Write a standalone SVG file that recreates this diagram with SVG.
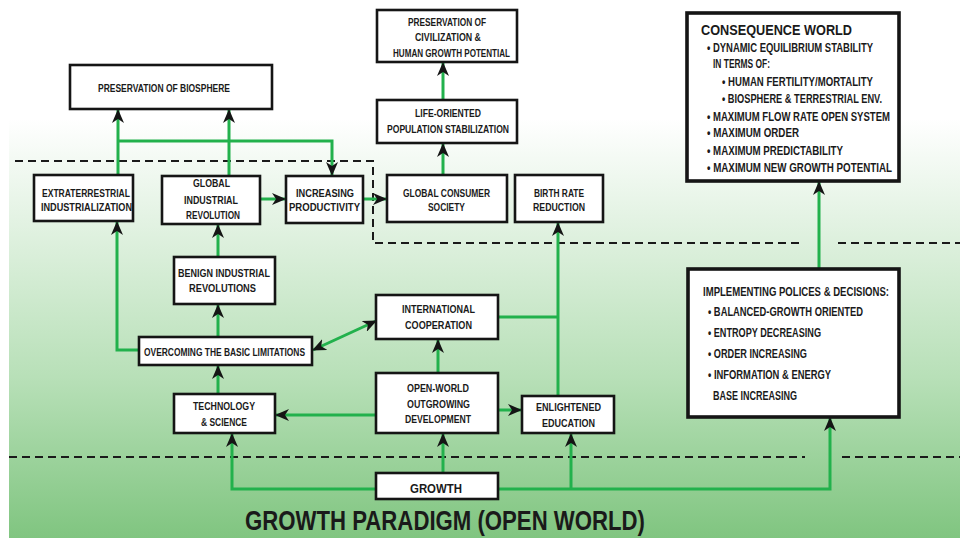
<svg xmlns="http://www.w3.org/2000/svg" width="960" height="538" viewBox="0 0 960 538">
<defs>
<linearGradient id="bg" x1="0" y1="0" x2="0" y2="1">
<stop offset="0" stop-color="#ffffff"/>
<stop offset="0.22" stop-color="#ffffff"/>
<stop offset="0.45" stop-color="#ddf0dd"/>
<stop offset="0.7" stop-color="#b8e0b8"/>
<stop offset="1" stop-color="#80c580"/>
</linearGradient>
<marker id="ah" viewBox="0 0 14 12" refX="13" refY="6" markerWidth="14" markerHeight="12" markerUnits="userSpaceOnUse" orient="auto-start-reverse">
<path d="M0,0 L14,6 L0,12 L4,6 z" fill="#151515"/>
</marker>
<style>
.box{fill:#fff;stroke:#151515;stroke-width:2.6}
.thick{stroke-width:3.6}
text{font-family:"Liberation Sans","DejaVu Sans",sans-serif;font-weight:bold;fill:#1a1a1a}
.t{font-size:11px}
.b{font-size:12px}
.i{font-size:13px}
.g{fill:none;stroke:#22b14c;stroke-width:3}
.a{marker-end:url(#ah)}
.d{fill:none;stroke:#1a1a1a;stroke-width:2;stroke-dasharray:8 5}
</style>
</defs>
<rect x="0" y="0" width="960" height="538" fill="#fff"/>
<rect x="9" y="0" width="951" height="538" fill="url(#bg)"/>

<g id="dashes">
<path class="d" d="M15,161 H373 V243 H803"/>
<path class="d" d="M838,243 H960"/>
<path class="d" d="M9,457 H805"/>
<path class="d" d="M842,457 H960"/>
</g>

<g id="connectors">
<path class="g a" d="M118,175 V110"/>
<path class="g a" d="M229,176 V110"/>
<path class="g a" d="M118,141 H332 V175"/>
<path class="g a" d="M260,199 H285"/>
<path class="g a" d="M363,199 H386"/>
<path class="g a" d="M443,175 V144"/>
<path class="g a" d="M443,100 V63"/>
<path class="g a" d="M218,257 V225"/>
<path class="g a" d="M218,337 V305"/>
<path class="g a" d="M218,394 V366"/>
<path class="g a" d="M139,350 H117 V222"/>
<path class="g a" d="M313,350 L376,321" style="marker-start:url(#ah)"/>
<path class="g a" d="M376,415 H276"/>
<path class="g a" d="M438,373 V340"/>
<path class="g a" d="M498,410 H521"/>
<path class="g a" d="M558,396 V223"/>
<path class="g" d="M498,317 H558"/>
<path class="g a" d="M376,489 H232 V434"/>
<path class="g a" d="M443,473 V434"/>
<path class="g a" d="M498,489 H830 V418"/>
<path class="g a" d="M571,489 V434"/>
<path class="g a" d="M819,269 V182"/>
</g>

<g id="biosphere">
<rect class="box" x="70" y="65" width="202" height="44"/>
<text class="t" x="98" y="92" textLength="132" lengthAdjust="spacingAndGlyphs">PRESERVATION OF BIOSPHERE</text>
</g>
<g id="extraterrestrial">
<rect class="box" x="34" y="175" width="99" height="46"/>
<text class="t" x="42" y="197" textLength="88" lengthAdjust="spacingAndGlyphs">EXTRATERRESTRIAL</text>
<text class="t" x="41" y="211" textLength="91" lengthAdjust="spacingAndGlyphs">INDUSTRIALIZATION</text>
</g>
<g id="global-industrial">
<rect class="box" x="162" y="176" width="98" height="48"/>
<text class="t" x="193" y="187" textLength="37" lengthAdjust="spacingAndGlyphs">GLOBAL</text>
<text class="t" x="184" y="204" textLength="54" lengthAdjust="spacingAndGlyphs">INDUSTRIAL</text>
<text class="t" x="186" y="219" textLength="54" lengthAdjust="spacingAndGlyphs">REVOLUTION</text>
</g>
<g id="increasing">
<rect class="box" x="286" y="176" width="77" height="47"/>
<text class="t" x="296" y="197" textLength="58" lengthAdjust="spacingAndGlyphs">INCREASING</text>
<text class="t" x="289" y="211" textLength="71" lengthAdjust="spacingAndGlyphs">PRODUCTIVITY</text>
</g>
<g id="civilization">
<rect class="box" x="377" y="10" width="140" height="52"/>
<text class="t" x="408" y="26" textLength="78" lengthAdjust="spacingAndGlyphs">PRESERVATION OF</text>
<text class="t" x="415" y="41" textLength="66" lengthAdjust="spacingAndGlyphs">CIVILIZATION &amp;</text>
<text class="t" x="393" y="57" textLength="117" lengthAdjust="spacingAndGlyphs">HUMAN GROWTH POTENTIAL</text>
</g>
<g id="life-oriented">
<rect class="box" x="377" y="100" width="140" height="43"/>
<text class="t" x="415" y="117" textLength="66" lengthAdjust="spacingAndGlyphs">LIFE-ORIENTED</text>
<text class="t" x="387" y="133" textLength="122" lengthAdjust="spacingAndGlyphs">POPULATION STABILIZATION</text>
</g>
<g id="consumer">
<rect class="box" x="387" y="175" width="120" height="47"/>
<text class="t" x="403" y="197" textLength="87" lengthAdjust="spacingAndGlyphs">GLOBAL CONSUMER</text>
<text class="t" x="428" y="211" textLength="37" lengthAdjust="spacingAndGlyphs">SOCIETY</text>
</g>
<g id="birth-rate">
<rect class="box" x="515" y="175" width="88" height="47"/>
<text class="t" x="534" y="197" textLength="50" lengthAdjust="spacingAndGlyphs">BIRTH RATE</text>
<text class="t" x="533" y="211" textLength="52" lengthAdjust="spacingAndGlyphs">REDUCTION</text>
</g>
<g id="benign">
<rect class="box" x="174" y="257" width="101" height="47"/>
<text class="t" x="178" y="277" textLength="92" lengthAdjust="spacingAndGlyphs">BENIGN INDUSTRIAL</text>
<text class="t" x="189" y="292" textLength="67" lengthAdjust="spacingAndGlyphs">REVOLUTIONS</text>
</g>
<g id="overcoming">
<rect class="box" x="139" y="337" width="173" height="28"/>
<text class="t" x="144" y="356" textLength="161" lengthAdjust="spacingAndGlyphs">OVERCOMING THE BASIC LIMITATIONS</text>
</g>
<g id="technology">
<rect class="box" x="174" y="394" width="101" height="39"/>
<text class="t" x="193" y="410" textLength="62" lengthAdjust="spacingAndGlyphs">TECHNOLOGY</text>
<text class="t" x="201" y="426" textLength="46" lengthAdjust="spacingAndGlyphs">&amp; SCIENCE</text>
</g>
<g id="international">
<rect class="box" x="376" y="295" width="122" height="44"/>
<text class="t" x="402" y="313" textLength="73" lengthAdjust="spacingAndGlyphs">INTERNATIONAL</text>
<text class="t" x="405" y="329" textLength="67" lengthAdjust="spacingAndGlyphs">COOPERATION</text>
</g>
<g id="open-world">
<rect class="box" x="376" y="373" width="122" height="60"/>
<text class="t" x="407" y="392" textLength="62" lengthAdjust="spacingAndGlyphs">OPEN-WORLD</text>
<text class="t" x="407" y="408" textLength="63" lengthAdjust="spacingAndGlyphs">OUTGROWING</text>
<text class="t" x="405" y="423" textLength="66" lengthAdjust="spacingAndGlyphs">DEVELOPMENT</text>
</g>
<g id="enlightened">
<rect class="box" x="522" y="396" width="92" height="37"/>
<text class="t" x="536" y="411" textLength="65" lengthAdjust="spacingAndGlyphs">ENLIGHTENED</text>
<text class="t" x="542" y="427" textLength="53" lengthAdjust="spacingAndGlyphs">EDUCATION</text>
</g>
<g id="growth">
<rect class="box" x="376" y="473" width="122" height="26"/>
<text class="i" x="410" y="493" textLength="52" lengthAdjust="spacingAndGlyphs">GROWTH</text>
</g>
<g id="consequence">
<rect class="box thick" x="687" y="13" width="212" height="168"/>
<text x="701" y="35" font-size="15" textLength="151" lengthAdjust="spacingAndGlyphs">CONSEQUENCE WORLD</text>
<text class="b" x="707" y="52" textLength="166" lengthAdjust="spacingAndGlyphs">• DYNAMIC EQUILIBRIUM STABILITY</text>
<text class="b" x="713" y="68" textLength="57" lengthAdjust="spacingAndGlyphs">IN TERMS OF:</text>
<text class="b" x="722" y="86" textLength="151" lengthAdjust="spacingAndGlyphs">• HUMAN FERTILITY/MORTALITY</text>
<text class="b" x="722" y="103" textLength="160" lengthAdjust="spacingAndGlyphs">• BIOSPHERE &amp; TERRESTRIAL ENV.</text>
<text class="b" x="707" y="121" textLength="183" lengthAdjust="spacingAndGlyphs">• MAXIMUM FLOW RATE OPEN SYSTEM</text>
<text class="b" x="707" y="137" textLength="92" lengthAdjust="spacingAndGlyphs">• MAXIMUM ORDER</text>
<text class="b" x="707" y="155" textLength="136" lengthAdjust="spacingAndGlyphs">• MAXIMUM PREDICTABILITY</text>
<text class="b" x="707" y="172" textLength="185" lengthAdjust="spacingAndGlyphs">• MAXIMUM NEW GROWTH POTENTIAL</text>
</g>
<g id="implementing">
<rect class="box thick" x="688" y="269" width="211" height="148"/>
<text class="i" x="703" y="296" textLength="186" lengthAdjust="spacingAndGlyphs">IMPLEMENTING POLICES &amp; DECISIONS:</text>
<text class="i" x="708" y="316" textLength="155" lengthAdjust="spacingAndGlyphs">• BALANCED-GROWTH ORIENTED</text>
<text class="i" x="708" y="337" textLength="113" lengthAdjust="spacingAndGlyphs">• ENTROPY DECREASING</text>
<text class="i" x="708" y="358" textLength="99" lengthAdjust="spacingAndGlyphs">• ORDER INCREASING</text>
<text class="i" x="708" y="379" textLength="123" lengthAdjust="spacingAndGlyphs">• INFORMATION &amp; ENERGY</text>
<text class="i" x="713" y="400" textLength="84" lengthAdjust="spacingAndGlyphs">BASE INCREASING</text>
</g>
<g id="title">
<text x="245" y="530" font-size="27" textLength="400" lengthAdjust="spacingAndGlyphs">GROWTH PARADIGM (OPEN WORLD)</text>
</g>
</svg>
